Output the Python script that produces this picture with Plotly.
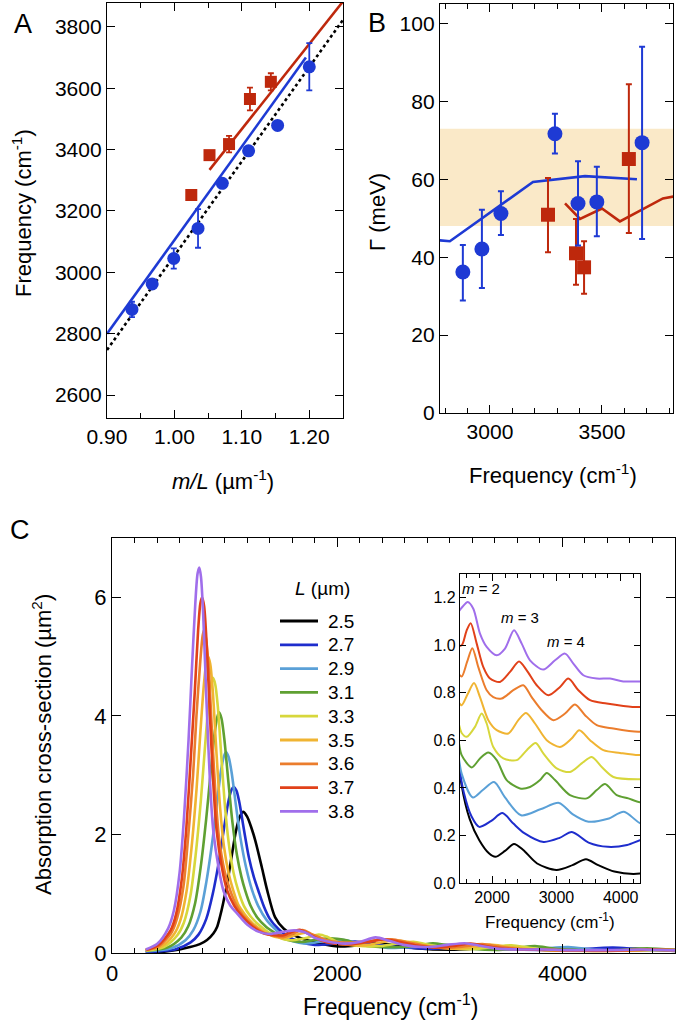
import plotly.graph_objects as go

W, H = 677, 1026
FONT = "Arial, Liberation Sans, sans-serif"
BLUE = "rgb(30,58,212)"
RED = "rgb(190,40,12)"

# ---------------- Panel A data ----------------
a_blue_x = [0.937, 0.967, 0.999, 1.035, 1.071, 1.110, 1.153, 1.200]
a_blue_y = [2879, 2962, 3045, 3143, 3290, 3396, 3479, 3670]
a_blue_err = [25, 0, 33, 63, 0, 0, 0, 77]
a_red_x = [1.025, 1.052, 1.081, 1.112, 1.143]
a_red_y = [3252, 3382, 3418, 3565, 3621]
a_red_err = [12, 0, 27, 37, 28]
a_blue_fit_x = [0.90, 1.195]
a_blue_fit_y = [2800, 3700]
a_red_fit_x = [1.052, 1.25]
a_red_fit_y = [3334, 3883]
a_light_x = [0.90, 1.25]
a_light_y = [2747, 3823]

# ---------------- Panel B data ----------------
b_blue_x = [2879, 2964, 3049, 3290, 3393, 3477, 3679]
b_blue_y = [36.2, 42.1, 51.2, 71.7, 53.8, 54.2, 69.4]
b_blue_plus = [6.9, 10.1, 5.7, 5.1, 10.8, 9.0, 24.6]
b_blue_minus = [7.3, 10.0, 5.5, 5.1, 10.8, 8.8, 24.7]
b_red_x = [3259, 3384, 3420, 3620]
b_red_y = [50.9, 41.0, 37.4, 65.2]
b_red_plus = [9.4, 8.8, 6.7, 19.2]
b_red_minus = [9.6, 8.1, 6.8, 19.0]
b_blue_fit_x = [2760, 2821, 3192, 3424, 3656]
b_blue_fit_y = [44.4, 44.1, 59.3, 60.8, 60.0]
b_red_fit_x = [3335, 3402, 3500, 3580, 3772, 3850]
b_red_fit_y = [53.8, 49.8, 52.5, 49.2, 55.1, 55.9]
band_lo, band_hi = 48, 73

# ---------------- Panel C data ----------------
L_labels = ["2.5", "2.7", "2.9", "3.1", "3.3", "3.5", "3.6", "3.7", "3.8"]
L_colors = ["rgb(0,0,0)", "rgb(30,45,205)", "rgb(90,160,215)", "rgb(95,160,50)",
            "rgb(215,215,60)", "rgb(240,180,50)", "rgb(235,125,45)",
            "rgb(225,65,25)", "rgb(160,110,235)"]

s25_x = [300, 453, 600, 693, 780, 844, 900, 933, 960, 987, 1024, 1060, 1100, 1135, 1164, 1200, 1240, 1272, 1330, 1378,
         1449, 1526, 1650, 1800, 1950, 2050, 2200, 2340, 2480, 2700, 3000, 3250, 3460, 3650, 3900, 4200, 4400, 4650, 4850, 5000]
s25_y = [0.01, 0.02, 0.06, 0.10, 0.15, 0.22, 0.33, 0.44, 0.62, 0.84, 1.19, 1.60, 2.05, 2.30, 2.38, 2.30, 2.10, 1.90, 1.45, 1.06,
         0.60, 0.41, 0.27, 0.18, 0.125, 0.11, 0.135, 0.164, 0.14, 0.082, 0.055, 0.075, 0.10, 0.075, 0.048, 0.038, 0.045, 0.07, 0.05, 0.035]

s27_x = [300, 560, 698, 768, 838, 894, 950, 992, 1034, 1061, 1080, 1105, 1130, 1170, 1215, 1260, 1300, 1350, 1400, 1480, 1560,
         1680, 1800, 1980, 2160, 2330, 2500, 2800, 3050, 3240, 3500, 3800, 4100, 4300, 4450, 4700, 5000]
s27_y = [0.02, 0.06, 0.18, 0.31, 0.58, 0.99, 1.55, 2.07, 2.56, 2.75, 2.80, 2.74, 2.55, 2.10, 1.62, 1.28, 1.05, 0.78, 0.58, 0.40, 0.28,
         0.18, 0.136, 0.16, 0.194, 0.15, 0.11, 0.073, 0.09, 0.115, 0.07, 0.052, 0.06, 0.08, 0.09, 0.06, 0.04]

s29_x = [300, 525, 655, 721, 786, 838, 891, 930, 970, 996, 1013, 1035, 1062, 1100, 1140, 1190, 1244, 1297, 1375, 1450,
         1526, 1700, 1850, 2030, 2200, 2450, 2750, 3040, 3250, 3500, 3800, 4050, 4300, 4600, 5000]
s29_y = [0.03, 0.08, 0.22, 0.38, 0.70, 1.20, 1.88, 2.50, 3.10, 3.33, 3.39, 3.31, 3.05, 2.50, 1.95, 1.45, 1.06, 0.80, 0.55, 0.40,
         0.26, 0.16, 0.19, 0.225, 0.16, 0.085, 0.11, 0.137, 0.09, 0.058, 0.07, 0.10, 0.052, 0.04, 0.06]

s31_x = [300, 490, 615, 677, 738, 787, 836, 874, 911, 935, 951, 972, 997, 1033, 1070, 1110, 1150, 1182, 1230, 1290,
         1370, 1470, 1526, 1682, 1811, 1941, 2071, 2226, 2433, 2589, 2745, 2849, 2978, 3211, 3471, 3627, 3756, 3938, 4119, 4300,
         4500, 4750, 5000]
s31_y = [0.04, 0.09, 0.26, 0.45, 0.84, 1.44, 2.25, 3.00, 3.70, 3.98, 4.06, 3.96, 3.62, 2.90, 2.20, 1.65, 1.28, 1.06, 0.80, 0.60,
         0.44, 0.31, 0.238, 0.186, 0.224, 0.249, 0.217, 0.133, 0.098, 0.104, 0.133, 0.163, 0.133, 0.07, 0.056, 0.091, 0.116, 0.07, 0.056, 0.04,
         0.05, 0.08, 0.05]

s33_x = [300, 460, 580, 638, 696, 742, 789, 824, 859, 881, 897, 917, 940, 975, 1009, 1044, 1080, 1120, 1170, 1230,
         1300, 1390, 1480, 1526, 1604, 1733, 1837, 1915, 2018, 2174, 2382, 2538, 2678, 2796, 3004, 3211, 3393, 3549, 3705, 3886,
         4274, 4500, 4800, 5000]
s33_y = [0.04, 0.10, 0.30, 0.51, 0.96, 1.64, 2.57, 3.43, 4.23, 4.55, 4.64, 4.53, 4.15, 3.20, 2.35, 1.75, 1.35, 1.06, 0.80, 0.62,
         0.48, 0.35, 0.27, 0.231, 0.215, 0.257, 0.313, 0.271, 0.172, 0.124, 0.117, 0.159, 0.189, 0.145, 0.082, 0.067, 0.103, 0.130, 0.088, 0.046,
         0.036, 0.04, 0.05, 0.05]

s35_x = [300, 440, 552, 607, 662, 706, 751, 784, 817, 838, 853, 872, 894, 927, 960, 994, 1035, 1076, 1120, 1180,
         1250, 1340, 1420, 1480, 1526, 1620, 1718, 1811, 1941, 2071, 2252, 2407, 2527, 2667, 2849, 3056, 3237, 3356, 3523, 3730,
         3990, 4274, 4500, 4800, 5000]
s35_y = [0.05, 0.11, 0.32, 0.55, 1.04, 1.77, 2.77, 3.70, 4.55, 4.90, 5.00, 4.88, 4.45, 3.40, 2.45, 1.80, 1.35, 1.06, 0.82, 0.65,
         0.50, 0.37, 0.29, 0.26, 0.248, 0.295, 0.341, 0.282, 0.185, 0.143, 0.129, 0.185, 0.215, 0.171, 0.101, 0.072, 0.108, 0.143, 0.101, 0.059,
         0.047, 0.038, 0.045, 0.05, 0.045]

s36_x = [300, 420, 530, 580, 635, 675, 720, 750, 785, 805, 818, 835, 857, 890, 920, 950, 1000, 1049, 1100, 1160,
         1250, 1350, 1450, 1526, 1610, 1692, 1785, 1915, 2018, 2148, 2329, 2485, 2615, 2771, 2952, 3134, 3289, 3445, 3627, 3886,
         4274, 4500, 4800, 5000]
s36_y = [0.05, 0.12, 0.35, 0.60, 1.13, 1.93, 3.00, 4.00, 4.95, 5.35, 5.45, 5.30, 4.85, 3.65, 2.65, 1.95, 1.38, 1.06, 0.82, 0.64,
         0.47, 0.34, 0.29, 0.269, 0.33, 0.388, 0.308, 0.211, 0.182, 0.176, 0.211, 0.232, 0.182, 0.127, 0.085, 0.113, 0.151, 0.106, 0.064, 0.05,
         0.036, 0.04, 0.055, 0.05]

s37_x = [300, 410, 520, 570, 620, 660, 700, 735, 765, 785, 800, 818, 838, 870, 900, 930, 975, 1022, 1085, 1150,
         1240, 1350, 1450, 1526, 1600, 1666, 1760, 1863, 1967, 2122, 2278, 2418, 2538, 2693, 2874, 3056, 3185, 3341, 3523, 3782,
         4041, 4274, 4500, 4800, 5000]
s37_y = [0.05, 0.13, 0.38, 0.66, 1.25, 2.10, 3.30, 4.40, 5.45, 5.90, 6.00, 5.85, 5.30, 4.00, 2.85, 2.05, 1.45, 1.06, 0.80, 0.63,
         0.46, 0.33, 0.30, 0.30, 0.36, 0.393, 0.307, 0.208, 0.16, 0.146, 0.188, 0.232, 0.195, 0.132, 0.09, 0.125, 0.16, 0.111, 0.069, 0.055,
         0.045, 0.04, 0.045, 0.06, 0.05]

s38_x = [300, 400, 500, 550, 600, 640, 680, 710, 740, 760, 775, 790, 810, 840, 870, 900, 950, 990, 1050, 1110,
         1200, 1300, 1400, 1526, 1620, 1707, 1811, 1915, 2071, 2200, 2340, 2460, 2589, 2796, 2978, 3134, 3263, 3419, 3627, 3834,
         4041, 4274, 4500, 4700, 5000]
s38_y = [0.06, 0.15, 0.42, 0.72, 1.35, 2.30, 3.60, 4.80, 5.90, 6.40, 6.50, 6.35, 5.70, 4.20, 2.90, 2.05, 1.40, 1.05, 0.80, 0.67,
         0.48, 0.36, 0.32, 0.358, 0.382, 0.354, 0.249, 0.193, 0.158, 0.186, 0.263, 0.207, 0.137, 0.098, 0.137, 0.165, 0.123, 0.074, 0.06, 0.06,
         0.048, 0.048, 0.05, 0.06, 0.045]

spectra_x = [s25_x, s27_x, s29_x, s31_x, s33_x, s35_x, s36_x, s37_x, s38_x]
spectra_y = [s25_y, s27_y, s29_y, s31_y, s33_y, s35_y, s36_y, s37_y, s38_y]
INSET_OFFSET = 0.1   # vertical offset between stacked curves in the inset

# ---------------- helpers ----------------
def xd(l, r):
    return [l / W, r / W]

def yd(t, b):
    return [1 - b / H, 1 - t / H]

def px(x):
    return x / W

def py(y):
    return 1 - y / H

def axis(size=21, **kw):
    d = dict(showline=True, linecolor="black", linewidth=1.3, mirror="ticks",
             ticks="inside", tickcolor="black", tickwidth=1.3, ticklen=7,
             showgrid=False, zeroline=False, automargin=False,
             tickfont=dict(family=FONT, size=size, color="black"))
    d.update(kw)
    return d

fig = go.Figure()

# Panel A
fig.add_trace(go.Scatter(x=a_light_x, y=a_light_y, mode="lines", xaxis="x", yaxis="y",
                         line=dict(color="black", width=2.6, dash="dot"), showlegend=False))
fig.add_trace(go.Scatter(x=a_blue_fit_x, y=a_blue_fit_y, mode="lines", xaxis="x", yaxis="y",
                         line=dict(color=BLUE, width=2.6), showlegend=False))
fig.add_trace(go.Scatter(x=a_red_fit_x, y=a_red_fit_y, mode="lines", xaxis="x", yaxis="y",
                         line=dict(color=RED, width=2.6), showlegend=False))
fig.add_trace(go.Scatter(x=a_blue_x, y=a_blue_y, mode="markers", xaxis="x", yaxis="y",
                         marker=dict(color=BLUE, size=13, symbol="circle"),
                         error_y=dict(type="data", array=a_blue_err, color=BLUE, thickness=1.8, width=3),
                         showlegend=False))
fig.add_trace(go.Scatter(x=a_red_x, y=a_red_y, mode="markers", xaxis="x", yaxis="y",
                         marker=dict(color=RED, size=12, symbol="square"),
                         error_y=dict(type="data", array=a_red_err, color=RED, thickness=1.8, width=3),
                         showlegend=False))

# Panel B
fig.add_trace(go.Scatter(x=b_blue_fit_x, y=b_blue_fit_y, mode="lines", xaxis="x2", yaxis="y2",
                         line=dict(color=BLUE, width=2.6), showlegend=False))
fig.add_trace(go.Scatter(x=b_red_fit_x, y=b_red_fit_y, mode="lines", xaxis="x2", yaxis="y2",
                         line=dict(color=RED, width=2.6), showlegend=False))
fig.add_trace(go.Scatter(x=b_red_x, y=b_red_y, mode="markers", xaxis="x2", yaxis="y2",
                         marker=dict(color=RED, size=14, symbol="square"),
                         error_y=dict(type="data", symmetric=False, array=b_red_plus, arrayminus=b_red_minus,
                                      color=RED, thickness=2, width=3),
                         showlegend=False))
fig.add_trace(go.Scatter(x=b_blue_x, y=b_blue_y, mode="markers", xaxis="x2", yaxis="y2",
                         marker=dict(color=BLUE, size=15, symbol="circle"),
                         error_y=dict(type="data", symmetric=False, array=b_blue_plus, arrayminus=b_blue_minus,
                                      color=BLUE, thickness=2, width=3),
                         showlegend=False))

# Panel C main
for lab, col, xs, ys in zip(L_labels, L_colors, spectra_x, spectra_y):
    fig.add_trace(go.Scatter(x=xs, y=ys, mode="lines", xaxis="x3", yaxis="y3", name=lab,
                             line=dict(color=col, width=2.6, shape="spline", smoothing=0.8),
                             showlegend=False))

# Panel C inset (curves stacked with a constant offset)
for i, (col, xs, ys) in enumerate(zip(L_colors, spectra_x, spectra_y)):
    fig.add_trace(go.Scatter(x=xs, y=[v + i * INSET_OFFSET for v in ys], mode="lines",
                             xaxis="x4", yaxis="y4",
                             line=dict(color=col, width=2, shape="spline", smoothing=0.8),
                             showlegend=False))

layout = dict(
    width=W, height=H, autosize=False,
    margin=dict(l=0, r=0, t=0, b=0, autoexpand=False),
    paper_bgcolor="white", plot_bgcolor="rgba(0,0,0,0)",
    font=dict(family=FONT, color="black"),
    showlegend=False,
    xaxis=axis(domain=xd(107, 343), anchor="y", range=[0.90, 1.25], dtick=0.1, tick0=0,
               tickformat=".2f", ticklen=8,
               minor=dict(dtick=0.05, ticks="inside", ticklen=5, tickcolor="black", tickwidth=1.3)),
    yaxis=axis(domain=yd(3, 418), anchor="x", range=[2525, 3878], dtick=200, tick0=0, ticklen=8),
    xaxis2=axis(domain=xd(440, 673), anchor="y2", range=[2777, 3817], dtick=500, tick0=0, ticklen=8,
                minor=dict(dtick=100, ticks="inside", ticklen=5, tickcolor="black", tickwidth=1.3)),
    yaxis2=axis(domain=yd(4, 413), anchor="x2", range=[0, 105], dtick=20, tick0=0, ticklen=8),
    xaxis3=axis(size=22, domain=xd(112, 675), anchor="y3", range=[0, 5000],
                tickvals=[0, 2000, 4000], ticklen=9,
                minor=dict(dtick=200, ticks="inside", ticklen=5, tickcolor="black", tickwidth=1.3)),
    yaxis3=axis(size=22, domain=yd(538, 953), anchor="x3", range=[0, 7],
                tickvals=[0, 2, 4, 6], ticklen=9),
    xaxis4=axis(size=16, domain=xd(460, 640), anchor="y4", range=[1500, 4300],
                tickvals=[2000, 3000, 4000], ticklen=7,
                minor=dict(dtick=200, ticks="inside", ticklen=4, tickcolor="black", tickwidth=1.2)),
    yaxis4=axis(size=16, domain=yd(574, 883), anchor="x4", range=[0, 1.3], dtick=0.2, tick0=0,
                tickformat=".1f", ticklen=6),
)
fig.update_layout(**layout)

fig.add_shape(type="rect", xref="x2 domain", yref="y2", x0=0, x1=1, y0=band_lo, y1=band_hi,
              fillcolor="rgb(250,233,200)", line=dict(width=0), layer="below")

def ann(text, x, y, size, angle=0, **kw):
    d = dict(text=text, x=px(x), y=py(y), xref="paper", yref="paper", showarrow=False,
             textangle=angle, xanchor="center", yanchor="middle",
             font=dict(family=FONT, size=size, color="black"))
    d.update(kw)
    fig.add_annotation(**d)

# legend for panel C (key drawn by hand to match the compact row spacing)
LEG_TOP, LEG_STEP = 621, 23.8
for i, (lab, col) in enumerate(zip(L_labels, L_colors)):
    yrow = LEG_TOP + i * LEG_STEP
    fig.add_shape(type="line", xref="paper", yref="paper", x0=px(280), x1=px(318),
                  y0=py(yrow), y1=py(yrow), line=dict(color=col, width=2.8))
    ann(lab, 326, yrow, 19, xanchor="left")

ann("A", 23, 24, 27)
ann("B", 377, 23, 27)
ann("C", 20, 530, 27)
ann("Frequency (cm<sup>-1</sup>)", 22, 213, 22, angle=-90)
ann("<i>m/L</i> (µm<sup>-1</sup>)", 223, 480, 22)
ann("Γ (meV)", 377, 212, 22, angle=-90)
ann("Frequency (cm<sup>-1</sup>)", 553, 474, 22)
ann("Absorption cross-section (µm<sup>2</sup>)", 42, 745, 22, angle=-90)
ann("Frequency (cm<sup>-1</sup>)", 390, 1005, 23)
ann("Frequency (cm<sup>-1</sup>)", 550, 921, 17)
ann("<i>L</i> (µm)", 322, 588, 19)
ann("<i>m</i> = 2", 481, 588, 15)
ann("<i>m</i> = 3", 520, 617, 15)
ann("<i>m</i> = 4", 566, 641, 15)

fig.write_html("out.html", include_plotlyjs=True, config={"displayModeBar": False},
               post_script="document.body.style.margin='0';document.body.style.overflow='hidden';")
